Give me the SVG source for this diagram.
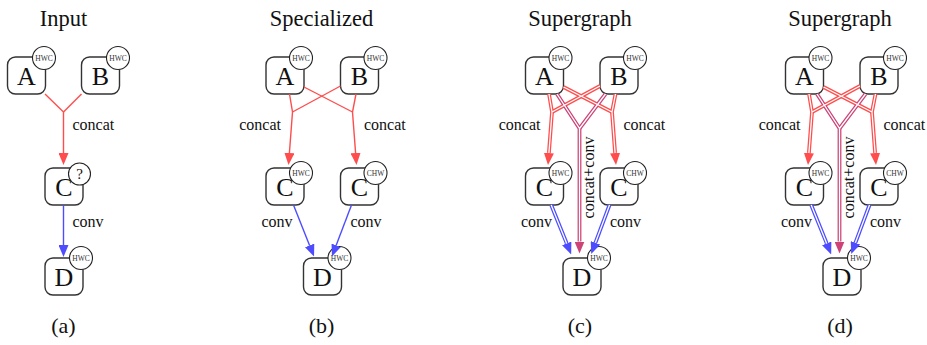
<svg xmlns="http://www.w3.org/2000/svg" width="927" height="345" viewBox="0 0 927 345">
<style>
text{font-family:"Liberation Serif","DejaVu Serif",serif;fill:#111}
.ttl{font-size:22.5px;text-anchor:middle}
.cap{font-size:22px;text-anchor:middle}
.n rect{fill:#fff;stroke:#333;stroke-width:1.4}
.n circle{fill:#fff;stroke:#222;stroke-width:1.1}
.lt{font-size:26px;text-anchor:middle}
.tg{font-size:7.5px;text-anchor:middle;fill:#333}
.q{font-size:15px;text-anchor:middle}
.el{font-size:16px}
.end{text-anchor:end}
.e{fill:none;stroke-width:1.4}
.r{stroke:#ff4d4d}
.b{stroke:#4d4dff}
.p{stroke:#cc4477}
.d{fill:none;stroke-width:3.8}
.w{fill:none;stroke:#fff;stroke-width:1.3}
</style>
<defs>
<marker id="ar" markerUnits="userSpaceOnUse" markerWidth="12" markerHeight="10" viewBox="0 -5 12 10" refX="0" refY="0" orient="auto"><path d="M0,-5L12,0L0,5z" fill="#ff4d4d"/></marker>
<marker id="ab" markerUnits="userSpaceOnUse" markerWidth="12" markerHeight="10" viewBox="0 -5 12 10" refX="0" refY="0" orient="auto"><path d="M0,-5L12,0L0,5z" fill="#4d4dff"/></marker>
<marker id="ap" markerUnits="userSpaceOnUse" markerWidth="12" markerHeight="10" viewBox="0 -5 12 10" refX="0" refY="0" orient="auto"><path d="M0,-5L12,0L0,5z" fill="#cc4477"/></marker>
</defs>

<!-- titles and captions -->
<text class="ttl" x="63.5" y="26">Input</text>
<text class="ttl" x="321.5" y="26">Specialized</text>
<text class="ttl" x="580" y="26">Supergraph</text>
<text class="ttl" x="840" y="26">Supergraph</text>
<text class="cap" x="63.5" y="333">(a)</text>
<text class="cap" x="321.5" y="333">(b)</text>
<text class="cap" x="580" y="333">(c)</text>
<text class="cap" x="840" y="333">(d)</text>

<!-- panel a nodes -->
<g id="a-A" class="n"><rect x="7.5" y="57" width="38" height="37" rx="8"/><text class="lt" x="26.5" y="85">A</text><circle cx="44" cy="58" r="11.5"/><text class="tg" x="44" y="60.5">HWC</text></g>
<g id="a-B" class="n"><rect x="81.5" y="57" width="38" height="37" rx="8"/><text class="lt" x="100.5" y="85">B</text><circle cx="118" cy="58" r="11.5"/><text class="tg" x="118" y="60.5">HWC</text></g>
<g id="a-C" class="n"><rect x="45" y="168" width="38" height="37" rx="8"/><text class="lt" x="64" y="196">C</text><circle cx="79.5" cy="174" r="11"/><text class="q" x="79.5" y="179">?</text></g>
<g id="a-D" class="n"><rect x="45" y="258" width="38" height="37" rx="8"/><text class="lt" x="64" y="286">D</text><circle cx="81" cy="258" r="11.5"/><text class="tg" x="81" y="260.5">HWC</text></g>

<!-- panel a connectors -->
<g id="a-edges">
<path class="e r" d="M45,94L63.5,112L63.5,153" marker-end="url(#ar)"/>
<path class="e r" d="M81.5,94L63.5,112"/>
<path class="e b" d="M63.5,205L63.5,245" marker-end="url(#ab)"/>
<text class="el" x="72.5" y="130">concat</text>
<text class="el" x="72.5" y="227">conv</text>
</g>

<!-- panels b, c, d nodes (same layout, shifted) -->
<g id="b-nodes">
<g id="b-A" class="n"><rect x="266" y="57" width="38" height="37" rx="8"/><text class="lt" x="285" y="85">A</text><circle cx="301" cy="58" r="11.5"/><text class="tg" x="301" y="60.5">HWC</text></g>
<g id="b-B" class="n"><rect x="340.5" y="57" width="38" height="37" rx="8"/><text class="lt" x="359.5" y="85">B</text><circle cx="375.5" cy="58" r="11.5"/><text class="tg" x="375.5" y="60.5">HWC</text></g>
<g id="b-C1" class="n"><rect x="266" y="168" width="38" height="37" rx="8"/><text class="lt" x="285" y="196">C</text><circle cx="301" cy="173" r="11.5"/><text class="tg" x="301" y="175.5">HWC</text></g>
<g id="b-C2" class="n"><rect x="340.5" y="168" width="38" height="37" rx="8"/><text class="lt" x="359.5" y="196">C</text><circle cx="375.5" cy="173" r="11.5"/><text class="tg" x="375.5" y="175.5">CHW</text></g>
<g id="b-D" class="n"><rect x="303.5" y="258" width="38" height="37" rx="8"/><text class="lt" x="322.5" y="286">D</text><circle cx="339.5" cy="258" r="11.5"/><text class="tg" x="339.5" y="260.5">HWC</text></g>
</g>
<g id="c-nodes" transform="translate(259.5,0)">
<g id="c-A" class="n"><rect x="266" y="57" width="38" height="37" rx="8"/><text class="lt" x="285" y="85">A</text><circle cx="301" cy="58" r="11.5"/><text class="tg" x="301" y="60.5">HWC</text></g>
<g id="c-B" class="n"><rect x="340.5" y="57" width="38" height="37" rx="8"/><text class="lt" x="359.5" y="85">B</text><circle cx="375.5" cy="58" r="11.5"/><text class="tg" x="375.5" y="60.5">HWC</text></g>
<g id="c-C1" class="n"><rect x="266" y="168" width="38" height="37" rx="8"/><text class="lt" x="285" y="196">C</text><circle cx="301" cy="173" r="11.5"/><text class="tg" x="301" y="175.5">HWC</text></g>
<g id="c-C2" class="n"><rect x="340.5" y="168" width="38" height="37" rx="8"/><text class="lt" x="359.5" y="196">C</text><circle cx="375.5" cy="173" r="11.5"/><text class="tg" x="375.5" y="175.5">CHW</text></g>
<g id="c-D" class="n"><rect x="303.5" y="258" width="38" height="37" rx="8"/><text class="lt" x="322.5" y="286">D</text><circle cx="339.5" cy="258" r="11.5"/><text class="tg" x="339.5" y="260.5">HWC</text></g>
</g>
<g id="d-nodes" transform="translate(519.5,0)">
<g id="d-A" class="n"><rect x="266" y="57" width="38" height="37" rx="8"/><text class="lt" x="285" y="85">A</text><circle cx="301" cy="58" r="11.5"/><text class="tg" x="301" y="60.5">HWC</text></g>
<g id="d-B" class="n"><rect x="340.5" y="57" width="38" height="37" rx="8"/><text class="lt" x="359.5" y="85">B</text><circle cx="375.5" cy="58" r="11.5"/><text class="tg" x="375.5" y="60.5">HWC</text></g>
<g id="d-C1" class="n"><rect x="266" y="168" width="38" height="37" rx="8"/><text class="lt" x="285" y="196">C</text><circle cx="301" cy="173" r="11.5"/><text class="tg" x="301" y="175.5">HWC</text></g>
<g id="d-C2" class="n"><rect x="340.5" y="168" width="38" height="37" rx="8"/><text class="lt" x="359.5" y="196">C</text><circle cx="375.5" cy="173" r="11.5"/><text class="tg" x="375.5" y="175.5">CHW</text></g>
<g id="d-D" class="n"><rect x="303.5" y="258" width="38" height="37" rx="8"/><text class="lt" x="322.5" y="286">D</text><circle cx="339.5" cy="258" r="11.5"/><text class="tg" x="339.5" y="260.5">HWC</text></g>
</g>

<!-- panel b connectors -->
<g id="b-edges">
<path class="e r" d="M289.5,94L292.5,112L289.4,153" marker-end="url(#ar)"/>
<path class="e r" d="M340.5,86L292.5,112"/>
<path class="e r" d="M356,94L352.5,112L355.6,153" marker-end="url(#ar)"/>
<path class="e r" d="M304,87L352.5,112"/>
<path class="e b" d="M293.5,205L309.6,245.4" marker-end="url(#ab)"/>
<path class="e b" d="M351.5,205L336.2,245.3" marker-end="url(#ab)"/>
<text class="el end" x="281" y="130">concat</text>
<text class="el" x="364" y="130">concat</text>
<text class="el end" x="292.5" y="227">conv</text>
<text class="el" x="350.5" y="227">conv</text>
</g>

<!-- panel c and d connectors (double lines) -->
<g id="c-edges" transform="translate(259.5,0)">
<path class="d r" d="M289.5,94L292.5,112L289.4,153" marker-end="url(#ar)"/>
<path class="d r" d="M340.5,86L292.5,112"/>
<path class="d r" d="M356,94L352.5,112L355.6,153" marker-end="url(#ar)"/>
<path class="d r" d="M304,87L352.5,112"/>
<path class="d p" d="M297.5,94L320,128.5L320,241.5" marker-end="url(#ap)"/>
<path class="d p" d="M346,94L320,128.5"/>
<path class="d b" d="M291.7,205L307.2,243.4" marker-end="url(#ab)"/>
<path class="d b" d="M350,205L335.9,242.8" marker-end="url(#ab)"/>
<path class="w" d="M289.5,94L292.5,112L289.4,153M340.5,86L292.5,112M356,94L352.5,112L355.6,153M304,87L352.5,112M297.5,94L320,128.5L320,241.5M346,94L320,128.5M291.7,205L307.2,243.4M350,205L335.9,242.8"/>
<text class="el end" x="281" y="130">concat</text>
<text class="el" x="364" y="130">concat</text>
<text class="el end" x="292.5" y="227">conv</text>
<text class="el" x="350.5" y="227">conv</text>
<text class="el" text-anchor="middle" transform="translate(334.5,177.5) rotate(-90)">concat+conv</text>
</g>
<g id="d-edges" transform="translate(519.5,0)">
<path class="d r" d="M289.5,94L292.5,112L289.4,153" marker-end="url(#ar)"/>
<path class="d r" d="M340.5,86L292.5,112"/>
<path class="d r" d="M356,94L352.5,112L355.6,153" marker-end="url(#ar)"/>
<path class="d r" d="M304,87L352.5,112"/>
<path class="d p" d="M297.5,94L320,128.5L320,241.5" marker-end="url(#ap)"/>
<path class="d p" d="M346,94L320,128.5"/>
<path class="d b" d="M291.7,205L307.2,243.4" marker-end="url(#ab)"/>
<path class="d b" d="M350,205L335.9,242.8" marker-end="url(#ab)"/>
<path class="w" d="M289.5,94L292.5,112L289.4,153M340.5,86L292.5,112M356,94L352.5,112L355.6,153M304,87L352.5,112M297.5,94L320,128.5L320,241.5M346,94L320,128.5M291.7,205L307.2,243.4M350,205L335.9,242.8"/>
<text class="el end" x="281" y="130">concat</text>
<text class="el" x="364" y="130">concat</text>
<text class="el end" x="292.5" y="227">conv</text>
<text class="el" x="350.5" y="227">conv</text>
<text class="el" text-anchor="middle" transform="translate(334.5,177.5) rotate(-90)">concat+conv</text>
</g>
</svg>
